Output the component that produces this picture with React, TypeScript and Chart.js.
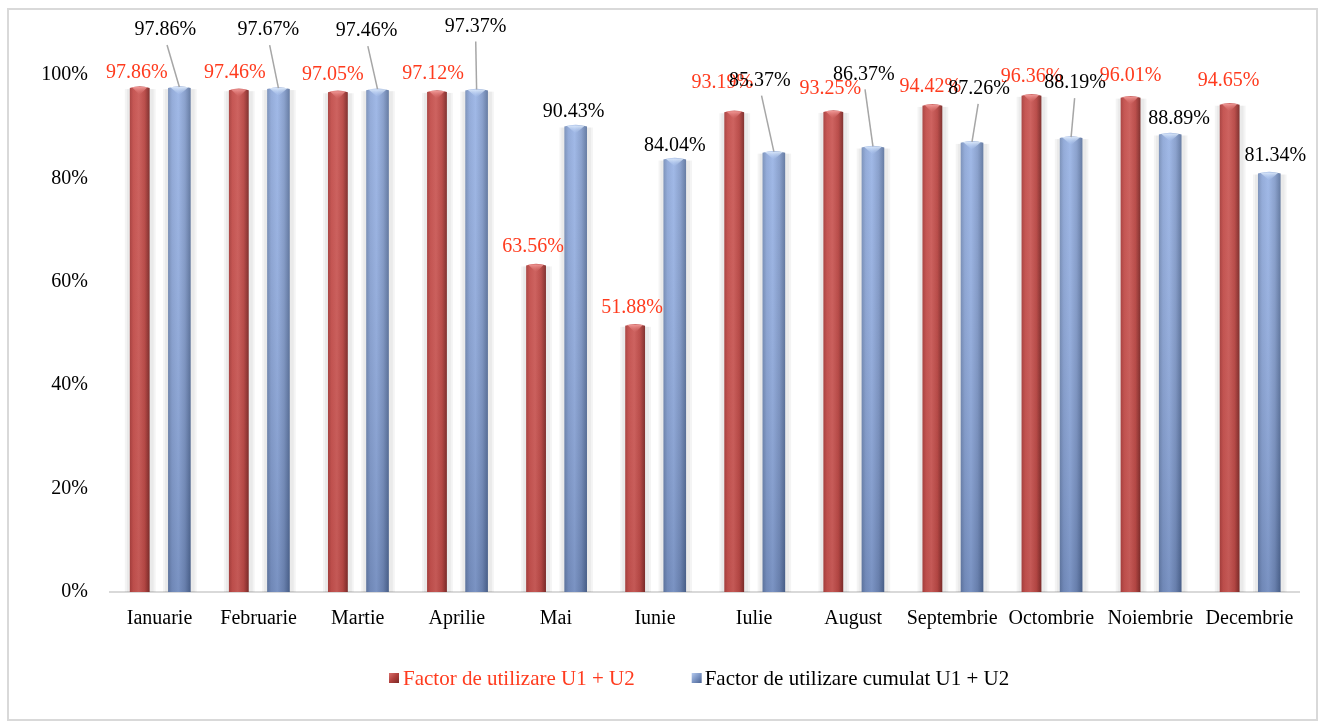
import React, { useEffect, useRef } from 'react';
import { Chart, registerables } from 'chart.js';

Chart.register(...registerables);

const months = [
  'Ianuarie', 'Februarie', 'Martie', 'Aprilie', 'Mai', 'Iunie',
  'Iulie', 'August', 'Septembrie', 'Octombrie', 'Noiembrie', 'Decembrie',
];
const factorU1U2 = [97.86, 97.46, 97.05, 97.12, 63.56, 51.88, 93.19, 93.25, 94.42, 96.36, 96.01, 94.65];
const factorCumulat = [97.86, 97.67, 97.46, 97.37, 90.43, 84.04, 85.37, 86.37, 87.26, 88.19, 88.89, 81.34];
const seriesNames = ['Factor de utilizare U1 + U2', 'Factor de utilizare cumulat U1 + U2'];
const yMin = 0;
const yMax = 100;
const yStep = 20;

// label placement (pixel offsets from bar top centre), like manually moved Excel labels
const redLabelOffsets: [number, number][] = [
  [-3, -13], [-4, -15], [-5, -16], [-4, -16], [-3, -17], [-3, -16],
  [-12, -27], [-3, -21], [-2, -17], [0, -17], [0, -20], [-1, -22],
];
const blueLabelOffsets: [number, number][] = [
  [-14, -56], [-10, -57], [-11, -57], [-1, -62], [-2, -13], [0, -12],
  [-14, -70], [-9, -71], [7, -52], [4, -53], [9, -14], [6, -16],
];
const blueLeaders = [true, true, true, true, false, false, true, true, true, true, false, false];

const FONT = '"Liberation Serif", "Times New Roman", serif';
const RED_TEXT = '#FF3B1E';

const redStops: [number, string][] = [
  [0, '#A8413F'], [0.18, '#C4524F'], [0.45, '#CC5E5B'], [0.75, '#B84946'], [1, '#7D2D2B'],
];
const blueStops: [number, string][] = [
  [0, '#7088B3'], [0.18, '#89A3D5'], [0.45, '#96B1E4'], [0.75, '#7E97C7'], [1, '#566E99'],
];

const cylinderPlugin = {
  id: 'cylinderBars',
  beforeDraw(chart: any) {
    const ctx = chart.ctx;
    ctx.save();
    ctx.fillStyle = '#FFFFFF';
    ctx.fillRect(0, 0, chart.width, chart.height);
    ctx.strokeStyle = '#D9D9D9';
    ctx.lineWidth = 2;
    ctx.strokeRect(8, 9, 1309, 711);
    ctx.restore();
  },
  afterDatasetsDraw(chart: any) {
    const ctx = chart.ctx;
    ctx.save();
    [0, 1].forEach((di) => {
      const meta = chart.getDatasetMeta(di);
      const stops = di === 0 ? redStops : blueStops;
      meta.data.forEach((el: any) => {
        const { x, y, base, width } = el.getProps(['x', 'y', 'base', 'width'], true);
        const x0 = x - width / 2;
        const x1 = x + width / 2;
        // soft back shadow
        ctx.fillStyle = 'rgba(0,0,0,0.045)';
        ctx.fillRect(x0 - 5, y + 3, width + 11, base - y - 3);
        ctx.fillStyle = 'rgba(0,0,0,0.04)';
        ctx.fillRect(x0 - 3, y + 3, width + 7, base - y - 3);
        // body
        const g = ctx.createLinearGradient(x0, 0, x1, 0);
        stops.forEach(([o, c]) => g.addColorStop(o, c));
        ctx.fillStyle = g;
        ctx.beginPath();
        ctx.moveTo(x0, base);
        ctx.lineTo(x0, y + 2);
        ctx.quadraticCurveTo(x, y - 1.5, x1, y + 2);
        ctx.lineTo(x1, base);
        ctx.closePath();
        ctx.fill();
        // vertical shading
        const v = ctx.createLinearGradient(0, y, 0, base);
        if (di === 1) {
          v.addColorStop(0, 'rgba(255,255,255,0.10)');
          v.addColorStop(1, 'rgba(10,25,60,0.20)');
        } else {
          v.addColorStop(0, 'rgba(255,255,255,0.03)');
          v.addColorStop(1, 'rgba(60,0,0,0.06)');
        }
        ctx.fillStyle = v;
        ctx.fill();
        // top cap highlight
        const cg = ctx.createLinearGradient(0, y, 0, y + 9);
        if (di === 0) {
          cg.addColorStop(0, 'rgba(250,170,168,0.95)');
          cg.addColorStop(1, 'rgba(220,110,108,0)');
        } else {
          cg.addColorStop(0, 'rgba(235,245,255,0.95)');
          cg.addColorStop(1, 'rgba(180,205,245,0)');
        }
        ctx.fillStyle = cg;
        ctx.beginPath();
        ctx.moveTo(x0 + 2, y + 1);
        ctx.lineTo(x1 - 2, y + 1);
        ctx.lineTo(x, y + 9);
        ctx.closePath();
        ctx.fill();
      });
    });

    // data labels
    ctx.font = `20px ${FONT}`;
    ctx.textAlign = 'center';
    ctx.textBaseline = 'middle';
    const redMeta = chart.getDatasetMeta(0);
    redMeta.data.forEach((el: any, i: number) => {
      const [dx, dy] = redLabelOffsets[i];
      ctx.fillStyle = RED_TEXT;
      ctx.fillText(factorU1U2[i].toFixed(2) + '%', el.x + dx, el.y + dy);
    });
    const blueMeta = chart.getDatasetMeta(1);
    blueMeta.data.forEach((el: any, i: number) => {
      const [dx, dy] = blueLabelOffsets[i];
      const lx = el.x + dx;
      const ly = el.y + dy;
      if (blueLeaders[i]) {
        ctx.strokeStyle = '#A6A6A6';
        ctx.lineWidth = 1.5;
        ctx.beginPath();
        ctx.moveTo(lx + 0.12 * (el.x - lx), ly + 15);
        ctx.lineTo(el.x, el.y + 1);
        ctx.stroke();
      }
    });
    blueMeta.data.forEach((el: any, i: number) => {
      const [dx, dy] = blueLabelOffsets[i];
      ctx.fillStyle = '#000000';
      ctx.fillText(factorCumulat[i].toFixed(2) + '%', el.x + dx, el.y + dy);
    });
    ctx.restore();
  },
  afterDraw(chart: any) {
    const ctx = chart.ctx;
    const area = chart.chartArea;
    ctx.save();
    ctx.font = `21px ${FONT}`;
    ctx.textBaseline = 'middle';
    ctx.textAlign = 'left';
    const w1 = ctx.measureText(seriesNames[0]).width;
    const box = 10;
    const cy = 678;
    const drawBox = (bx: number, c1: string, c2: string, c3: string) => {
      const g = ctx.createLinearGradient(bx, cy - box / 2, bx + box, cy + box / 2);
      g.addColorStop(0, c1);
      g.addColorStop(0.5, c2);
      g.addColorStop(1, c3);
      ctx.fillStyle = g;
      ctx.fillRect(bx, cy - box / 2, box, box);
    };
    let x = area.left + 279;
    drawBox(x, '#D9706D', '#B0403D', '#7A2826');
    x += box + 4;
    ctx.fillStyle = RED_TEXT;
    ctx.fillText(seriesNames[0], x, cy + 1);
    x += w1 + 57;
    drawBox(x, '#B5CAEE', '#7C95C4', '#4A6291');
    x += box + 3;
    ctx.fillStyle = '#000000';
    ctx.fillText(seriesNames[1], x, cy + 1);
    ctx.restore();
  },
};

export default function App() {
  const canvasRef = useRef<HTMLCanvasElement | null>(null);

  useEffect(() => {
    if (!canvasRef.current) return;
    const chart = new Chart(canvasRef.current, {
      type: 'bar',
      data: {
        labels: months,
        datasets: [
          {
            label: seriesNames[0],
            data: factorU1U2,
            backgroundColor: 'rgba(0,0,0,0)',
            categoryPercentage: 0.8,
            barPercentage: 0.5,
          },
          {
            label: seriesNames[1],
            data: factorCumulat,
            backgroundColor: 'rgba(0,0,0,0)',
            categoryPercentage: 0.8,
            barPercentage: 0.57,
          },
        ],
      },
      options: {
        responsive: false,
        animation: false,
        devicePixelRatio: 1,
        layout: { padding: { top: 75, right: 26, bottom: 90, left: 10 } },
        plugins: {
          legend: { display: false },
          tooltip: { enabled: false },
          title: { display: false },
        },
        scales: {
          x: {
            grid: { display: false, drawTicks: false },
            border: { display: true, color: '#D9D9D9', width: 2 },
            ticks: { color: '#000000', font: { family: FONT, size: 20 }, padding: 15, maxRotation: 0, autoSkip: false },
            afterFit: (s: any) => { s.height = 40; },
          },
          y: {
            min: yMin,
            max: yMax,
            grid: { display: false, drawTicks: false },
            border: { display: false },
            ticks: {
              stepSize: yStep,
              color: '#000000',
              font: { family: FONT, size: 20 },
              padding: 22,
              callback: (v: any) => `${v}%`,
            },
            afterFit: (s: any) => { s.width = 100; },
          },
        },
      },
      plugins: [cylinderPlugin],
    });
    return () => chart.destroy();
  }, []);

  return (
    <div style={{ position: 'absolute', left: 0, top: 0, width: 1325, height: 722, background: '#fff' }}>
      <canvas ref={canvasRef} width={1325} height={722} style={{ display: 'block' }} />
    </div>
  );
}
